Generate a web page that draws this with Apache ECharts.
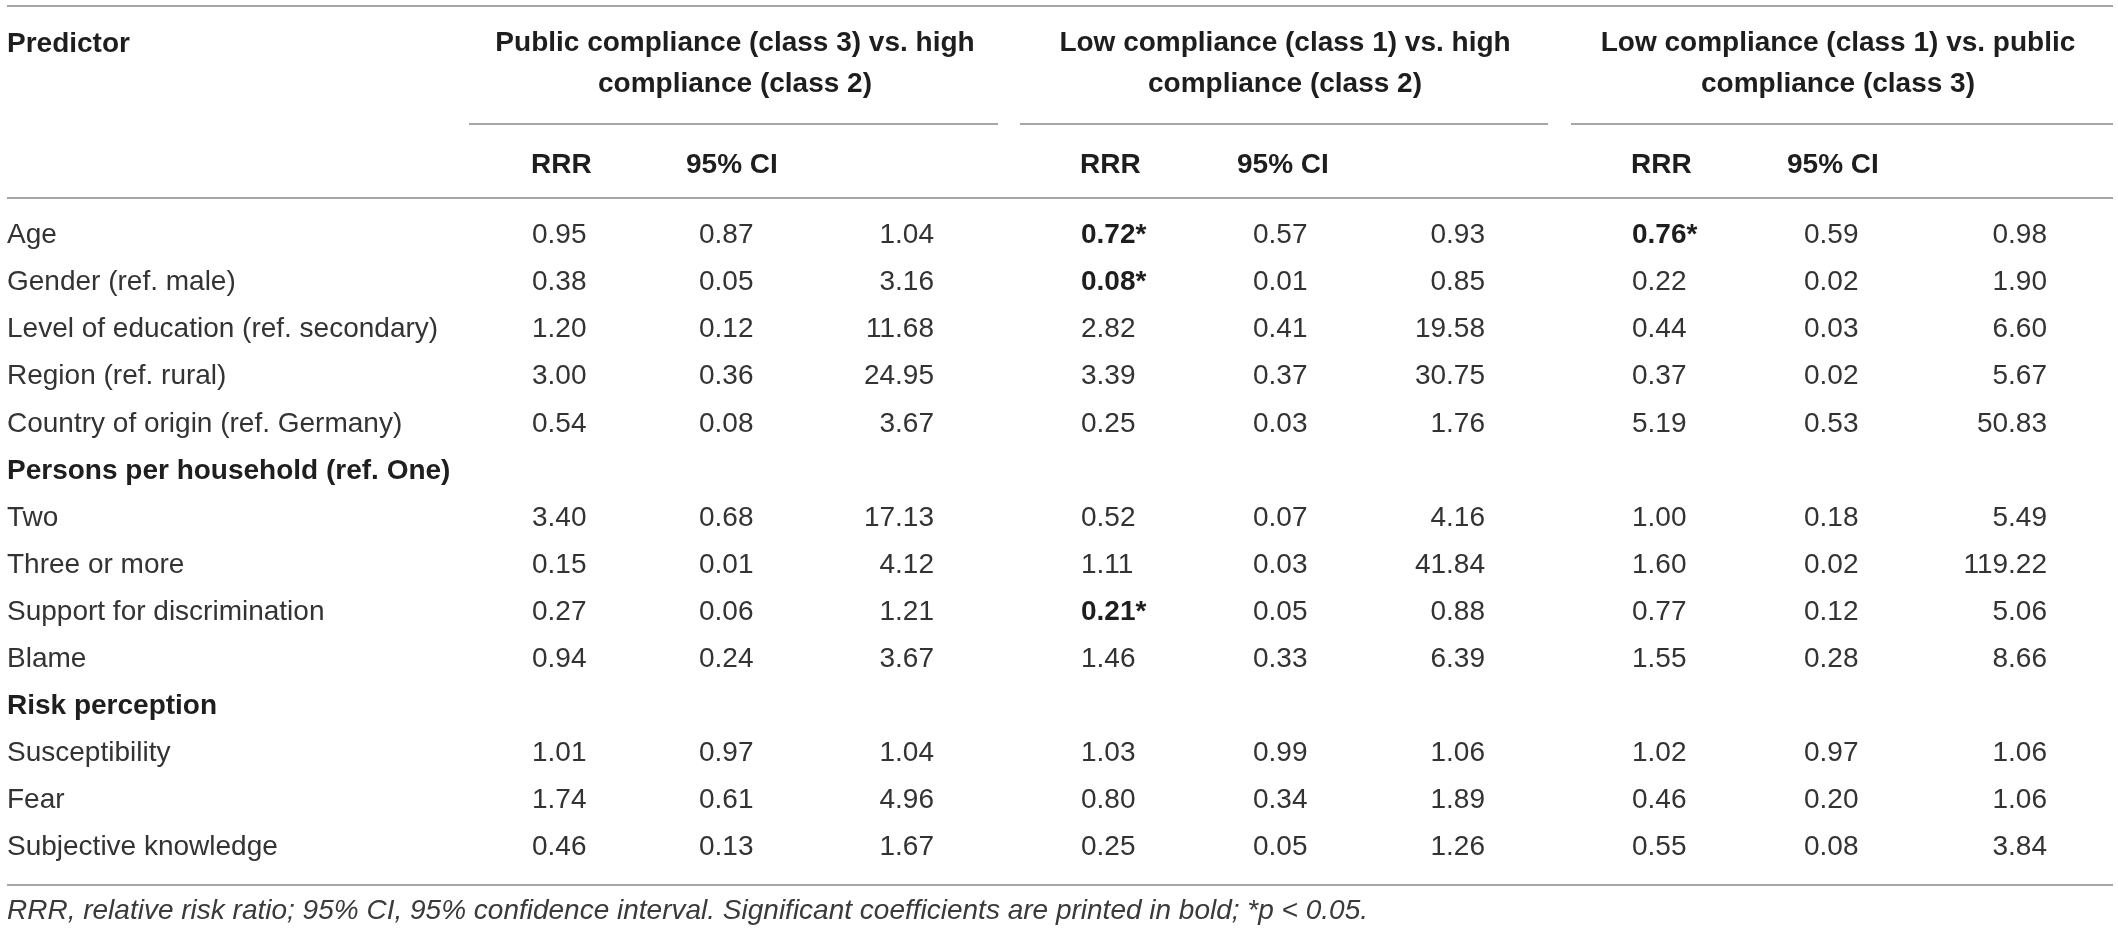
<!DOCTYPE html>
<html>
<head>
<meta charset="utf-8">
<script src="https://cdn.jsdelivr.net/npm/echarts@6/dist/echarts.min.js"></script>
<style>
  html, body { margin: 0; padding: 0; background: #fff; }
  #chart { width: 2118px; height: 933px; }
</style>
</head>
<body>
<div id="chart"></div>
<script>
// --- table data ---
var predictors = [
  'Age',
  'Gender (ref. male)',
  'Level of education (ref. secondary)',
  'Region (ref. rural)',
  'Country of origin (ref. Germany)',
  'Persons per household (ref. One)',
  'Two',
  'Three or more',
  'Support for discrimination',
  'Blame',
  'Risk perception',
  'Susceptibility',
  'Fear',
  'Subjective knowledge'
];
var headingRows = ['Persons per household (ref. One)', 'Risk perception'];

// public (3) vs high (2)
var rrr1 = [0.95, 0.38, 1.20, 3.00, 0.54, null, 3.40, 0.15, 0.27, 0.94, null, 1.01, 1.74, 0.46];
var lo1  = [0.87, 0.05, 0.12, 0.36, 0.08, null, 0.68, 0.01, 0.06, 0.24, null, 0.97, 0.61, 0.13];
var hi1  = [1.04, 3.16, 11.68, 24.95, 3.67, null, 17.13, 4.12, 1.21, 3.67, null, 1.04, 4.96, 1.67];
var sig1 = [0, 0, 0, 0, 0, 0, 0, 0, 0, 0, 0, 0, 0, 0];

// low (1) vs high (2)
var rrr2 = [0.72, 0.08, 2.82, 3.39, 0.25, null, 0.52, 1.11, 0.21, 1.46, null, 1.03, 0.80, 0.25];
var lo2  = [0.57, 0.01, 0.41, 0.37, 0.03, null, 0.07, 0.03, 0.05, 0.33, null, 0.99, 0.34, 0.05];
var hi2  = [0.93, 0.85, 19.58, 30.75, 1.76, null, 4.16, 41.84, 0.88, 6.39, null, 1.06, 1.89, 1.26];
var sig2 = [1, 1, 0, 0, 0, 0, 0, 0, 1, 0, 0, 0, 0, 0];

// low (1) vs public (3)
var rrr3 = [0.76, 0.22, 0.44, 0.37, 5.19, null, 1.00, 1.60, 0.77, 1.55, null, 1.02, 0.46, 0.55];
var lo3  = [0.59, 0.02, 0.03, 0.02, 0.53, null, 0.18, 0.02, 0.12, 0.28, null, 0.97, 0.20, 0.08];
var hi3  = [0.98, 1.90, 6.60, 5.67, 50.83, null, 5.49, 119.22, 5.06, 8.66, null, 1.06, 1.06, 3.84];
var sig3 = [1, 0, 0, 0, 0, 0, 0, 0, 0, 0, 0, 0, 0, 0];

var groupTitles = [
  'Public compliance (class 3) vs. high\ncompliance (class 2)',
  'Low compliance (class 1) vs. high\ncompliance (class 2)',
  'Low compliance (class 1) vs. public\ncompliance (class 3)'
];
var subHeads = ['RRR', '95% CI'];
var firstHead = 'Predictor';
var footnote = 'RRR, relative risk ratio; 95% CI, 95% confidence interval. Significant coefficients are printed in bold; *p < 0.05.';

// --- layout (pixel units of the page axes) ---
var W = 2118, H = 933;
var labelX = 7;
var groups = [
  { rrr: rrr1, lo: lo1, hi: hi1, sig: sig1, titleX: 735,  rrrX: 532,  ciHeadX: 686,  loX: 699,  hiX: 934,  lineFrom: 469,  lineTo: 998 },
  { rrr: rrr2, lo: lo2, hi: hi2, sig: sig2, titleX: 1285, rrrX: 1081, ciHeadX: 1237, loX: 1253, hiX: 1485, lineFrom: 1020, lineTo: 1548 },
  { rrr: rrr3, lo: lo3, hi: hi3, sig: sig3, titleX: 1838, rrrX: 1632, ciHeadX: 1787, loX: 1804, hiX: 2047, lineFrom: 1571, lineTo: 2113 }
];
var titleY = 64, subHeadY = 165, footY = 911;
var rules = [
  { from: 7, to: 2113, y: 6 },
  { from: groups[0].lineFrom, to: groups[0].lineTo, y: 124 },
  { from: groups[1].lineFrom, to: groups[1].lineTo, y: 124 },
  { from: groups[2].lineFrom, to: groups[2].lineTo, y: 124 },
  { from: 7, to: 2113, y: 198 },
  { from: 7, to: 2113, y: 885 }
];

var family = '"Liberation Sans", Arial, Helvetica, sans-serif';
var bodyFont = '28px ' + family;
var boldFont = 'bold 28px ' + family;
var footFont = 'italic 28px ' + family;
var ink = '#333';
var head = '#1e1e1e';
var rule = '#a6a6a6';

// header cells, drawn on the page grid
var headerCells = [{ text: firstHead, x: labelX, y: 44, align: 'left', font: boldFont, lh: 41 }];
groups.forEach(function(g, gi) {
  headerCells.push({ text: groupTitles[gi], x: g.titleX, y: titleY, align: 'center', font: boldFont, lh: 41 });
  headerCells.push({ text: subHeads[0], x: g.rrrX - 1, y: subHeadY, align: 'left', font: boldFont, lh: 30 });
  headerCells.push({ text: subHeads[1], x: g.ciHeadX, y: subHeadY, align: 'left', font: boldFont, lh: 30 });
});
headerCells.push({ text: footnote, x: labelX, y: footY, align: 'left', font: footFont, lh: 30, color: '#3a3a3a' });

function fmt(v, s) {
  if (v === null) return '';
  return v.toFixed(2) + (s ? '*' : '');
}

function textEl(x, y, str, align, font, color, lh) {
  return {
    type: 'text',
    style: {
      x: x, y: y, text: str, align: align, verticalAlign: 'middle',
      font: font, fill: color, lineHeight: lh || 30
    }
  };
}

function renderRow(params, api) {
  var i = api.value(1);
  var y = api.coord([0, i])[1];
  var isHead = headingRows.indexOf(predictors[i]) >= 0;
  var children = [
    textEl(api.coord([labelX, i])[0], y, predictors[i], 'left', isHead ? boldFont : bodyFont, isHead ? head : ink)
  ];
  if (!isHead) {
    groups.forEach(function(g) {
      var s = g.sig[i];
      children.push(textEl(api.coord([g.rrrX, i])[0], y, fmt(g.rrr[i], s), 'left', s ? boldFont : bodyFont, s ? head : ink));
      children.push(textEl(api.coord([g.loX, i])[0], y, fmt(g.lo[i], 0), 'left', bodyFont, ink));
      children.push(textEl(api.coord([g.hiX, i])[0], y, fmt(g.hi[i], 0), 'right', bodyFont, ink));
    });
  }
  return { type: 'group', children: children };
}

function renderHeader(params, api) {
  var c = headerCells[params.dataIndex];
  var p = api.coord([api.value(0), api.value(1)]);
  return textEl(p[0], p[1], c.text, c.align, c.font, c.color || head, c.lh);
}

function renderRule(params, api) {
  var a = api.coord([api.value(0), api.value(2)]);
  var b = api.coord([api.value(1), api.value(2)]);
  return {
    type: 'line',
    shape: { x1: a[0], y1: a[1], x2: b[0], y2: b[1] },
    style: { stroke: rule, lineWidth: 2 }
  };
}

var chart = echarts.init(document.getElementById('chart'), null, { renderer: 'canvas' });

chart.setOption({
  animation: false,
  backgroundColor: '#fff',
  grid: [
    { left: 0, right: 0, top: 0, bottom: 0 },
    { left: 0, right: 0, top: 212, height: 659 }
  ],
  xAxis: [
    { gridIndex: 0, type: 'value', min: 0, max: W, show: false },
    { gridIndex: 1, type: 'value', min: 0, max: W, show: false }
  ],
  yAxis: [
    { gridIndex: 0, type: 'value', min: 0, max: H, inverse: true, show: false },
    { gridIndex: 1, type: 'category', data: predictors, inverse: true, show: false }
  ],
  series: [
    {
      type: 'custom',
      xAxisIndex: 0, yAxisIndex: 0,
      silent: true,
      renderItem: renderRule,
      data: rules.map(function(r) { return [r.from, r.to, r.y]; })
    },
    {
      type: 'custom',
      xAxisIndex: 0, yAxisIndex: 0,
      silent: true,
      renderItem: renderHeader,
      data: headerCells.map(function(c) { return [c.x, c.y]; })
    },
    {
      type: 'custom',
      xAxisIndex: 1, yAxisIndex: 1,
      silent: true,
      renderItem: renderRow,
      data: predictors.map(function(p, i) { return [0, i]; })
    }
  ]
});

window.addEventListener('resize', function() { chart.resize(); });
</script>
</body>
</html>
